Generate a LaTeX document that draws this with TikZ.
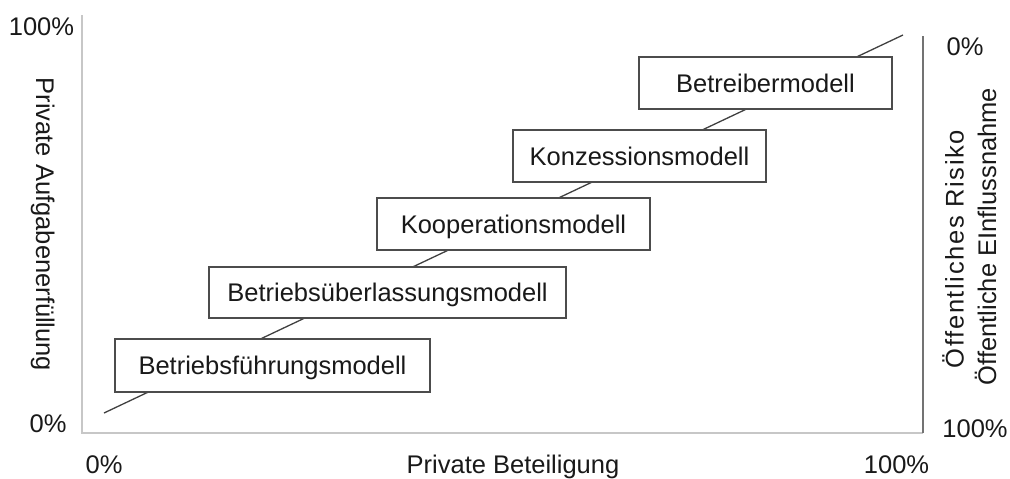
\documentclass[tikz,border=0pt]{standalone}
\usepackage{fontspec}
\setmainfont{Liberation Sans}
\begin{document}
\begin{tikzpicture}[x=1pt,y=-1pt,
  lbl/.style={font=\fontsize{25.5}{30}\selectfont, text=black!90, inner sep=0pt, anchor=base},
  mbox/.style={draw=black!70, line width=1.3pt, fill=white, inner sep=0pt,
    font=\fontsize{25.5}{30}\selectfont, text=black!90,
    text height=18.4pt, text depth=0pt},
  lightaxis/.style={draw=black!22, line width=1.4pt},
  darkaxis/.style={draw=black!55, line width=1.4pt},
  diag/.style={draw=black!75, line width=1.3pt}]
\useasboundingbox (0,0) rectangle (1010,479);
% axes
\coordinate (lt) at (82,15);
\coordinate (lb) at (82,433);
\coordinate (rb) at (923,433);
\coordinate (rt) at (923,36);
\draw[lightaxis] (lt) -- (lb) -- (rb);
\draw[darkaxis] (rb) -- (rt);
% diagonal
\coordinate (d0) at (104,413);
\coordinate (d1) at (903,35);
\draw[diag] (d0) -- (d1);
% boxes
\node[mbox, minimum width=315pt, minimum height=53pt] (b1) at (272.5,365.5) {Betriebsführungsmodell};
\node[mbox, minimum width=357pt, minimum height=51pt] (b2) at (387.5,292.5) {Betriebsüberlassungsmodell};
\node[mbox, minimum width=273pt, minimum height=52pt] (b3) at (513.5,224) {Kooperationsmodell};
\node[mbox, minimum width=253pt, minimum height=52pt] (b4) at (639.5,156) {Konzessionsmodell};
\node[mbox, minimum width=253pt, minimum height=52pt] (b5) at (765.5,83) {Betreibermodell};
% labels
\node[lbl] (ytop) at (41.5,35) {100\%};
\node[lbl] (ybot) at (48,432) {0\%};
\node[lbl] (xl) at (104,473) {0\%};
\node[lbl] (xt) at (513,473) {Private Beteiligung};
\node[lbl] (xr) at (896.5,473) {100\%};
\node[lbl] (rtop) at (965,55) {0\%};
\node[lbl] (rbot) at (975,437) {100\%};
\node[lbl, rotate=-90] (yt) at (36,224.5) {Private Aufgabenerfüllung};
\node[lbl, rotate=90] (r1) at (963.5,249) {\addfontfeature{LetterSpace=6.4}Öffentliches Risiko};
\node[lbl, rotate=90] (r2) at (996,236.5) {Öffentliche EInflussnahme};
\end{tikzpicture}
\end{document}
